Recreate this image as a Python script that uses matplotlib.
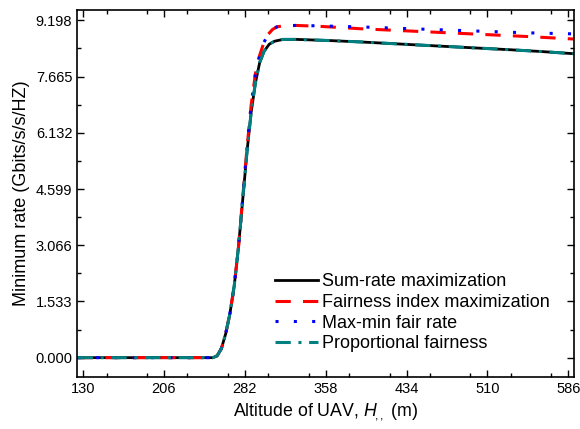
import matplotlib
matplotlib.use("Agg")
import matplotlib.pyplot as plt
from matplotlib.ticker import MultipleLocator, FixedLocator

plt.rcParams['font.family'] = ['Liberation Sans', 'DejaVu Sans']
plt.rcParams['mathtext.fontset'] = 'custom'
plt.rcParams['mathtext.it'] = 'Liberation Sans:italic'
plt.rcParams['mathtext.rm'] = 'Liberation Sans'

# Data
x_sum = [125, 200, 252, 256, 260, 264, 268, 272, 276, 280, 284, 288, 292, 296, 300,
         305, 310, 318, 330, 360, 391, 430, 483, 530, 560, 591]
y_sum = [0, 0, 0, 0.05, 0.25, 0.65, 1.2, 1.95, 3.0, 4.3, 5.6, 6.7, 7.5, 8.05, 8.35,
         8.55, 8.63, 8.68, 8.68, 8.65, 8.61, 8.55, 8.47, 8.40, 8.35, 8.29]

x_fair = [125, 200, 252, 256, 260, 264, 268, 272, 276, 280, 284, 288, 292, 296, 300,
          304, 308, 312, 318, 330, 350, 391, 458, 546, 591]
y_fairidx = [0, 0, 0, 0.05, 0.25, 0.65, 1.2, 1.95, 3.0, 4.35, 5.7, 6.9, 7.75, 8.25, 8.6,
             8.82, 8.95, 9.02, 9.05, 9.06, 9.04, 8.97, 8.88, 8.76, 8.69]
y_maxmin = [0, 0, 0, 0.05, 0.25, 0.65, 1.2, 1.95, 3.0, 4.35, 5.7, 6.9, 7.75, 8.25, 8.6,
            8.82, 8.95, 9.02, 9.05, 9.06, 9.05, 9.02, 8.95, 8.86, 8.83]
y_prop = y_sum

xticks = [130, 206, 282, 358, 434, 510, 586]
yticks = [0.000, 1.533, 3.066, 4.599, 6.132, 7.665, 9.198]
labels = ["Sum-rate maximization", "Fairness index maximization",
          "Max-min fair rate", "Proportional fairness"]

fig = plt.figure(figsize=(5.8, 4.29), dpi=100)
ax = fig.add_axes([0.133, 0.121, 0.857, 0.856])

ax.plot(x_sum, y_sum, color='black', lw=2, label=labels[0])
ax.plot(x_fair, y_fairidx, color='red', lw=2.2, linestyle=(0, (5, 4)), label=labels[1])
ax.plot(x_fair, y_maxmin, color='blue', lw=2.2, linestyle=(0, (1, 5)), label=labels[2])
ax.plot(x_sum, y_prop, color='#008080', lw=2.2, linestyle=(0, (5, 2.5, 1, 2.5)), label=labels[3])

ax.set_xlim(124.4, 591.6)
ax.set_ylim(-0.53, 9.485)
ax.set_xticks(xticks)
ax.set_xticklabels([str(v) for v in xticks])
ax.set_yticks(yticks)
ax.set_yticklabels(["%.3f" % v for v in yticks])
ax.xaxis.set_minor_locator(MultipleLocator(38))
ax.yaxis.set_minor_locator(FixedLocator([yticks[i] + 0.7665 for i in range(6)]))
ax.tick_params(which='both', direction='in', top=True, right=True, labelsize=10.5)
ax.tick_params(which='major', length=5, width=1)
ax.tick_params(which='minor', length=3, width=1)
for s in ax.spines.values():
    s.set_linewidth(1.2)

ax.set_xlabel(r"Altitude of UAV, $\mathit{H}_{\!\mathit{,,}}$ (m)", fontsize=12.8)
ax.set_ylabel("Minimum rate (Gbits/s/s/HZ)", fontsize=13)

ax.legend(loc='lower left', bbox_to_anchor=(0.398, 0.068), frameon=False, fontsize=13,
          handlelength=2.4, handletextpad=0.2, labelspacing=0.2,
          borderpad=0, borderaxespad=0)

fig.savefig("out.png", dpi=100)
